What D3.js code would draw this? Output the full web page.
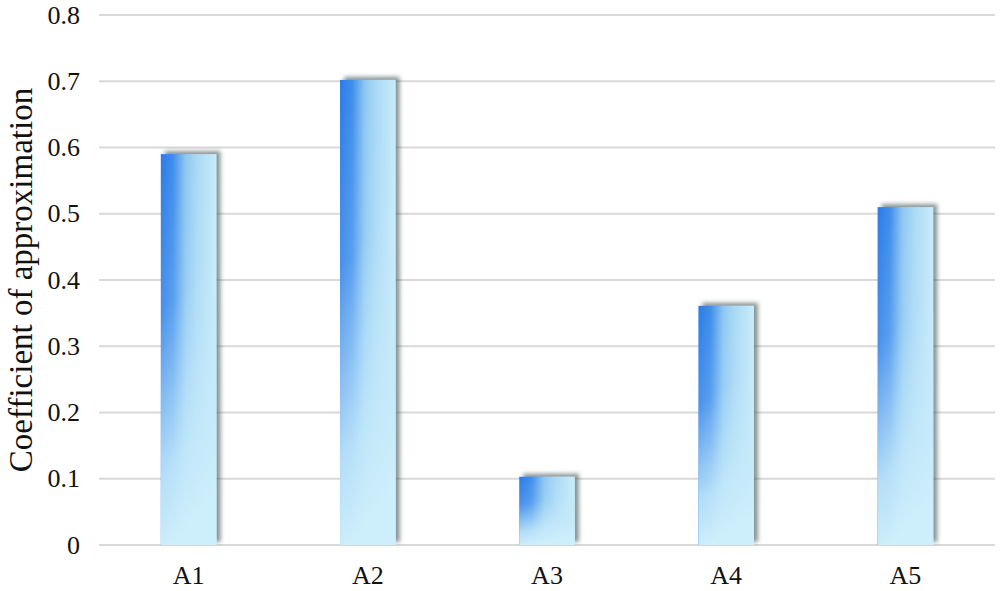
<!DOCTYPE html>
<html>
<head>
<meta charset="utf-8">
<script src="https://cdn.jsdelivr.net/npm/d3@7/dist/d3.min.js"></script>
<style>
	body { margin: 0; background: #fff; }
	svg text { font-family: "Liberation Serif", "Times New Roman", serif; fill: #111; }
</style>
</head>
<body>
<div id="chart"></div>
<script>
var categories = ['A1', 'A2', 'A3', 'A4', 'A5'];
var values = [0.59, 0.702, 0.103, 0.361, 0.51];
var yTicks = [0, 0.1, 0.2, 0.3, 0.4, 0.5, 0.6, 0.7, 0.8];
var yTitle = 'Coefficient of approximation';

(function() {
	var width = 1000,
		height = 591,
		margin = { top: 15, right: 5, bottom: 46, left: 99 };

	var svg = d3.select('#chart').append('svg')
		.attr('width', width)
		.attr('height', height);

	var defs = svg.append('defs');

	// dark blue on the left, light on the right
	var hGrad = defs.append('linearGradient')
		.attr('id', 'barH')
		.attr('x1', 0).attr('y1', 0).attr('x2', 1).attr('y2', 0);
	hGrad.append('stop').attr('offset', '0%').attr('stop-color', '#2a7be6');
	hGrad.append('stop').attr('offset', '22%').attr('stop-color', '#3d8cec');
	hGrad.append('stop').attr('offset', '45%').attr('stop-color', '#8cc6f2');
	hGrad.append('stop').attr('offset', '65%').attr('stop-color', '#a9d8f5');
	hGrad.append('stop').attr('offset', '100%').attr('stop-color', '#c8ecfa');

	// fade to pale towards the bottom
	var vGrad = defs.append('linearGradient')
		.attr('id', 'barV')
		.attr('x1', 0).attr('y1', 0).attr('x2', 0.15).attr('y2', 1);
	vGrad.append('stop').attr('offset', '0%').attr('stop-color', '#c6eafa').attr('stop-opacity', 0);
	vGrad.append('stop').attr('offset', '40%').attr('stop-color', '#c6eafa').attr('stop-opacity', 0.2);
	vGrad.append('stop').attr('offset', '80%').attr('stop-color', '#c6eafa').attr('stop-opacity', 0.88);
	vGrad.append('stop').attr('offset', '100%').attr('stop-color', '#cdeefb').attr('stop-opacity', 1);

	var shadow = defs.append('filter')
		.attr('id', 'shadow')
		.attr('x', '-20%').attr('y', '-20%')
		.attr('width', '150%').attr('height', '140%');
	shadow.append('feDropShadow')
		.attr('dx', 4).attr('dy', -3)
		.attr('stdDeviation', 2.2)
		.attr('flood-color', '#4a5a5a')
		.attr('flood-opacity', 0.65);

	var x = d3.scaleBand()
		.domain(categories)
		.range([margin.left, width - margin.right])
		.paddingInner(0.69)
		.paddingOuter(0.345);

	var y = d3.scaleLinear()
		.domain([0, 0.8])
		.range([height - margin.bottom, margin.top]);

	// grid
	svg.append('g').selectAll('line')
		.data(yTicks)
		.enter()
		.append('line')
		.attr('x1', margin.left)
		.attr('x2', width - margin.right)
		.attr('y1', function(d) { return y(d); })
		.attr('y2', function(d) { return y(d); })
		.attr('stroke', '#d9d9d9')
		.attr('stroke-width', 2);

	// y tick labels
	svg.append('g').selectAll('text')
		.data(yTicks)
		.enter()
		.append('text')
		.attr('x', 80)
		.attr('y', function(d) { return y(d); })
		.attr('dy', '0.33em')
		.attr('text-anchor', 'end')
		.style('font-size', '26px')
		.text(function(d) { return d === 0 ? '0' : d3.format('.1f')(d); });

	// x labels
	svg.append('g').selectAll('text')
		.data(categories)
		.enter()
		.append('text')
		.attr('x', function(d) { return x(d) + x.bandwidth() / 2; })
		.attr('y', 584)
		.attr('text-anchor', 'middle')
		.style('font-size', '26px')
		.text(function(d) { return d; });

	// y title
	svg.append('text')
		.attr('transform', 'translate(32,' + y(0.4) + ') rotate(-90)')
		.attr('text-anchor', 'middle')
		.style('font-size', '33px')
		.text(yTitle);

	var bar = svg.append('g').selectAll('g')
		.data(values)
		.enter()
		.append('g')
		.attr('filter', 'url(#shadow)');

	bar.append('rect')
		.attr('x', function(d, i) { return x(categories[i]); })
		.attr('y', function(d) { return y(d); })
		.attr('width', x.bandwidth())
		.attr('height', function(d) { return y(0) - y(d); })
		.attr('fill', 'url(#barH)');

	bar.append('rect')
		.attr('x', function(d, i) { return x(categories[i]); })
		.attr('y', function(d) { return y(d); })
		.attr('width', x.bandwidth())
		.attr('height', function(d) { return y(0) - y(d); })
		.attr('fill', 'url(#barV)');
})();
</script>
</body>
</html>
